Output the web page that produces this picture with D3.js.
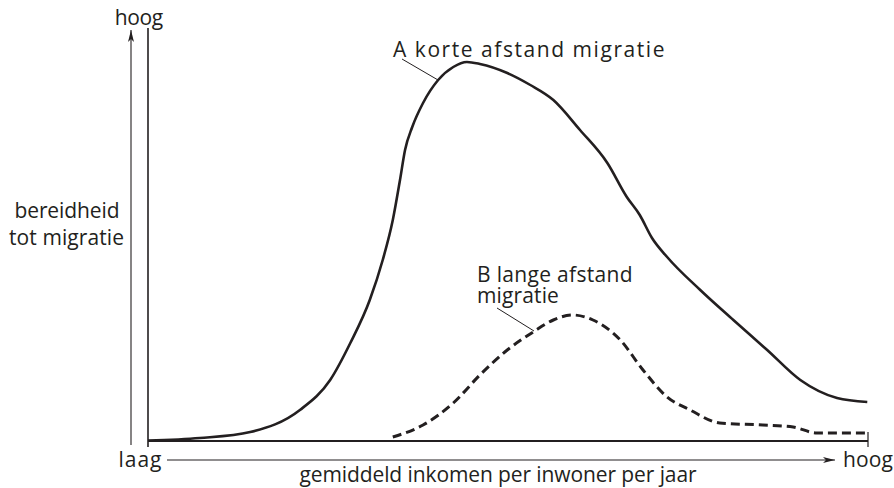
<!DOCTYPE html>
<html>
<head>
<meta charset="utf-8">
<script src="https://cdn.jsdelivr.net/npm/d3@7"></script>
<style>
  html, body { margin: 0; padding: 0; background: #fff; }
  svg { display: block; }
  text { font-family: "Open Sans", "Noto Sans", sans-serif; fill: #231f20; }
</style>
</head>
<body>
<svg id="chart" width="894" height="488"></svg>
<script>
// ---- Data (income index 0..100, willingness index 0..100) ----
const incomeA = [0, 7.2, 14.2, 21.1, 25.3, 28.1, 30.8, 32.6, 34.0, 35.0, 35.7, 36.7, 38.2, 40.3, 42.4, 44.3, 46.1, 49.9, 53.1, 56.3, 60.0, 63.8, 66.5, 68.3, 70.0, 72.1, 76.7, 81.3, 86.0, 90.6, 95.7, 99.9];
const willingA = [0.1, 0.75, 2.25, 7.75, 15.25, 24.5, 35.25, 45.25, 55.25, 65.25, 72.75, 78.5, 84.5, 90.25, 93.5, 94.75, 94.25, 92, 89, 85.25, 77.75, 69.5, 61, 56.5, 50.75, 46, 37.75, 30.25, 22.75, 15.25, 10.75, 9.75];
const incomeB = [34.0, 38.2, 42.4, 46.1, 49.9, 53.5, 56.3, 59.0, 61.8, 65.6, 68.75, 72.1, 75.3, 79.4, 85.4, 89.6, 92.9, 99.9];
const willingB = [1, 4, 9.5, 16.5, 22.75, 27.25, 30.25, 31.5, 30.25, 25.25, 17.75, 11, 7.75, 4.5, 4, 3.5, 2, 2];

const labelA = "A korte afstand migratie";
const labelB = ["B lange afstand", "migratie"];
const yTitle = ["bereidheid", "tot migratie"];
const xTitle = "gemiddeld inkomen per inwoner per jaar";
const lowLabel = "laag";
const highLabel = "hoog";

// ---- Layout ----
const svg = d3.select("#chart");
const ink = "#231f20";
const x = d3.scaleLinear().domain([0, 100]).range([148, 868]);
const y = d3.scaleLinear().domain([0, 100]).range([441, 41]);

svg.append("defs").append("marker")
  .attr("id", "arrow").attr("viewBox", "0 0 12 8")
  .attr("refX", 12).attr("refY", 4)
  .attr("markerWidth", 12).attr("markerHeight", 8)
  .attr("markerUnits", "userSpaceOnUse").attr("orient", "auto")
  .append("path").attr("d", "M0,1 L12,4 L0,7 L3,4 Z").attr("fill", ink);

// main axes
const axisG = svg.append("g");
axisG.append("line")
  .attr("x1", x(0)).attr("x2", x(0)).attr("y1", 28).attr("y2", y(0) + 6)
  .attr("stroke", ink).attr("stroke-width", 1.6);
axisG.append("line")
  .attr("x1", x(0)).attr("x2", x(100)).attr("y1", y(0)).attr("y2", y(0))
  .attr("stroke", ink).attr("stroke-width", 2);
axisG.append("line")
  .attr("x1", x(100)).attr("x2", x(100)).attr("y1", y(0) - 9).attr("y2", y(0) + 6)
  .attr("stroke", ink).attr("stroke-width", 1.2);

// arrow lines
svg.append("line")
  .attr("x1", 131).attr("x2", 131).attr("y1", 445).attr("y2", 30)
  .attr("stroke", ink).attr("stroke-width", 1.1).attr("marker-end", "url(#arrow)");
svg.append("line")
  .attr("x1", 167).attr("x2", 835).attr("y1", 460).attr("y2", 460)
  .attr("stroke", ink).attr("stroke-width", 1.1).attr("marker-end", "url(#arrow)");

// curves
const line = d3.line().x(d => x(d[0])).y(d => y(d[1])).curve(d3.curveMonotoneX);
svg.append("path")
  .attr("d", line(incomeA.map((v, i) => [v, willingA[i]])))
  .attr("fill", "none").attr("stroke", ink).attr("stroke-width", 2.6);
svg.append("path")
  .attr("d", line(incomeB.map((v, i) => [v, willingB[i]])))
  .attr("fill", "none").attr("stroke", ink).attr("stroke-width", 3)
  .attr("stroke-dasharray", "9,5");

// leader lines
svg.append("line").attr("x1", 402).attr("y1", 59).attr("x2", 438).attr("y2", 80)
  .attr("stroke", ink).attr("stroke-width", 1);
svg.append("line").attr("x1", 497).attr("y1", 308).attr("x2", 534).attr("y2", 331)
  .attr("stroke", ink).attr("stroke-width", 1);

// text helper: one <text> per label, one <tspan> per line,
// fixed size with letter-spacing fitted to the reference width
const FS = 21;
function label(lines, px, pys, anchor, widths) {
  const t = svg.append("text").attr("text-anchor", anchor).style("font-size", FS + "px");
  lines.forEach((txt, i) => {
    const s = t.append("tspan").attr("x", px[i]).attr("y", pys[i]).text(txt);
    const w = s.node().getComputedTextLength();
    const ls = Math.max(-1, Math.min(1.8, (widths[i] - w) / txt.length));
    s.style("letter-spacing", ls.toFixed(2) + "px");
    if (anchor === "middle") s.attr("x", px[i] + ls / 2);
  });
  return t;
}

label([highLabel], [139], [25], "middle", [48]);
label([lowLabel], [140], [467], "middle", [44]);
label([highLabel], [868], [467], "middle", [50]);
label([xTitle], [498], [482], "middle", [397]);
label(yTitle, [67, 66.5], [218, 245], "middle", [105, 115]);
label([labelA], [393], [57], "start", [273]);
label(labelB, [477, 477], [282, 303], "start", [156, 82]);
</script>
</body>
</html>
